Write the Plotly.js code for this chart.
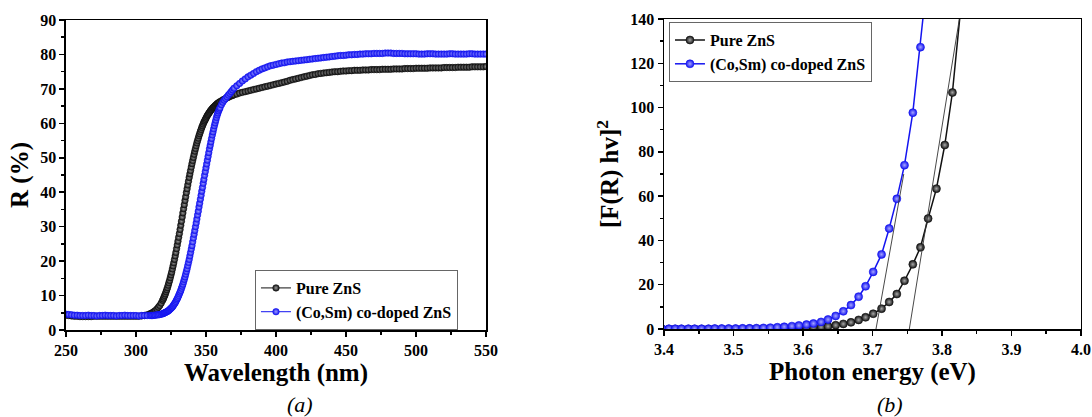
<!DOCTYPE html>
<html>
<head>
<meta charset="utf-8">
<script src="https://cdn.plot.ly/plotly-3.0.1.min.js"></script>
<style>html,body{margin:0;padding:0;background:#fff;}#chart{width:1092px;height:417px;}</style>
</head>
<body>
<div id="chart"></div>
<script>
// ---------- Panel (a): reflectance vs wavelength ----------
const wavelength = [
  250,252,254,256,258,260,262,264,266,268,270,272,274,276,278,280,282,284,286,288,290,292,294,296,298,300,302,304,306,308,310,
  311,312,313,314,315,316,317,318,319,
  319.5,320,320.5,321,321.5,322,322.5,323,323.5,324,
  324.5,325,325.5,326,326.5,327,327.5,328,328.5,329,
  329.5,330,330.5,331,331.5,332,332.5,333,333.5,334,
  334.5,335,335.5,336,336.5,337,337.5,338,338.5,339,
  339.5,340,340.5,341,341.5,342,342.5,343,343.5,344,
  344.5,345,345.5,346,346.5,347,347.5,348,348.5,349,
  349.5,350,350.5,351,351.5,352,352.5,353,353.5,354,
  354.5,355,355.5,356,356.5,357,357.5,358,358.5,359,
  359.5,360,
  361,362,363,364,365,366,367,368,369,370,
  372,374,376,378,380,382,384,386,388,390,
  392,394,396,398,400,402,404,406,408,410,
  412,414,416,418,420,422,424,426,428,430,
  432,434,436,438,440,442,444,446,448,450,
  452,454,456,458,460,462,464,466,468,470,
  472,474,476,478,480,482,484,486,488,490,
  492,494,496,498,500,502,504,506,508,510,
  512,514,516,518,520,522,524,526,528,530,
  532,534,536,538,540,542,544,546,548,550
];
const reflPure = [
  4.3,4.2,4.1,4.0,4.0,3.9,3.9,3.9,3.9,3.9,4.0,4.0,4.0,4.0,4.0,4.0,4.0,4.0,4.0,4.0,4.0,4.0,4.0,4.0,4.0,4.0,4.0,4.1,4.2,4.4,4.7,
  4.9,5.1,5.4,5.7,6.1,6.6,7.1,7.8,8.6,
  9.0,9.5,10.0,10.5,11.1,11.7,12.3,13.0,13.7,14.4,
  15.2,16.0,16.8,17.7,18.6,19.5,20.5,21.5,22.5,23.6,
  24.7,25.8,26.9,28.0,29.2,30.4,31.6,32.8,34.0,35.2,
  36.4,37.6,38.7,39.9,41.0,42.1,43.2,44.3,45.3,46.3,
  47.3,48.3,49.2,50.1,51.0,51.9,52.7,53.5,54.3,55.0,
  55.7,56.4,57.0,57.6,58.2,58.8,59.3,59.8,60.3,60.7,
  61.1,61.5,61.9,62.3,62.6,62.9,63.2,63.5,63.8,64.0,
  64.3,64.5,64.7,64.9,65.1,65.3,65.5,65.7,65.8,66.0,
  66.1,66.3,
  66.5,66.8,67.0,67.2,67.4,67.6,67.8,68.0,68.1,68.3,
  68.5,68.8,69.0,69.2,69.4,69.6,69.8,70.0,70.2,70.4,
  70.6,70.8,71.0,71.2,71.4,71.6,71.8,72.0,72.2,72.5,
  72.7,72.9,73.1,73.3,73.5,73.7,73.9,74.1,74.2,74.4,
  74.5,74.6,74.7,74.8,74.9,75.0,75.0,75.1,75.2,75.2,
  75.3,75.3,75.4,75.4,75.4,75.5,75.5,75.5,75.6,75.6,
  75.6,75.6,75.7,75.7,75.7,75.7,75.8,75.8,75.8,75.8,
  75.9,75.9,75.9,75.9,76.0,76.0,76.0,76.0,76.0,76.1,
  76.1,76.1,76.1,76.1,76.2,76.2,76.2,76.2,76.2,76.3,
  76.3,76.3,76.3,76.3,76.4,76.4,76.4,76.4,76.4,76.5
];
const reflDoped = [
  4.6,4.5,4.4,4.3,4.3,4.2,4.2,4.2,4.3,4.2,4.2,4.1,4.2,4.2,4.3,4.2,4.2,4.2,4.1,4.2,4.2,4.3,4.2,4.2,4.2,4.2,4.1,4.2,4.2,4.2,4.2,
  4.2,4.2,4.3,4.3,4.4,4.4,4.5,4.6,4.7,
  4.8,4.9,5.0,5.1,5.2,5.3,5.4,5.6,5.7,5.9,
  6.1,6.3,6.5,6.7,7.0,7.3,7.6,7.9,8.3,8.7,
  9.1,9.5,10.0,10.5,11.0,11.5,12.1,12.7,13.3,14.0,
  14.7,15.4,16.2,17.0,17.8,18.7,19.6,20.5,21.5,22.5,
  23.5,24.5,25.6,26.7,27.8,28.9,30.0,31.1,32.2,33.4,
  34.5,35.7,36.8,38.0,39.1,40.3,41.4,42.6,43.7,44.9,
  46.0,47.1,48.2,49.3,50.4,51.5,52.6,53.6,54.6,55.6,
  56.6,57.5,58.4,59.3,60.1,60.9,61.7,62.4,63.0,63.6,
  64.1,64.5,
  65.4,66.1,66.7,67.2,67.7,68.2,68.7,69.2,69.7,70.2,
  70.9,71.6,72.3,72.9,73.5,74.0,74.5,75.0,75.4,75.8,
  76.1,76.4,76.7,76.9,77.1,77.3,77.5,77.6,77.8,77.9,
  78.0,78.1,78.2,78.3,78.4,78.5,78.6,78.7,78.8,78.9,
  79.0,79.1,79.2,79.3,79.4,79.5,79.6,79.7,79.7,79.8,
  79.9,79.9,80.0,80.0,80.1,80.1,80.2,80.2,80.2,80.3,
  80.3,80.3,80.3,80.4,80.4,80.4,80.3,80.3,80.3,80.3,
  80.2,80.2,80.2,80.2,80.2,80.1,80.1,80.1,80.2,80.2,
  80.2,80.1,80.1,80.1,80.1,80.1,80.2,80.2,80.1,80.1,
  80.1,80.1,80.1,80.2,80.2,80.1,80.1,80.1,80.1,80.1
];

// ---------- Panel (b): Kubelka-Munk plot ----------
const energyPure = [
  3.397,3.407,3.416,3.425,3.435,3.444,3.454,3.464,3.473,3.483,
  3.493,3.503,3.513,3.523,3.533,3.543,3.553,3.563,3.573,3.584,
  3.594,3.605,3.615,3.626,3.636,3.647,3.658,3.669,3.680,3.690,
  3.701,3.713,3.724,3.735,3.746,3.758,3.769,3.780,3.792,3.804,
  3.815,3.827
];
const kmPure = [
  0.0,0.0,0.0,0.0,0.0,0.0,0.0,0.0,0.0,0.0,
  0.0,0.0,0.0,0.1,0.1,0.1,0.1,0.2,0.2,0.3,
  0.4,0.5,0.7,0.9,1.2,1.7,2.3,3.0,4.1,5.3,
  6.9,9.2,12.2,15.8,21.8,29.2,36.9,49.9,63.4,83.1,
  106.8,145
];
const energyDoped = [
  3.397,3.407,3.416,3.425,3.435,3.444,3.454,3.464,3.473,3.483,
  3.493,3.503,3.513,3.523,3.533,3.543,3.553,3.563,3.573,3.584,
  3.594,3.605,3.615,3.626,3.636,3.647,3.658,3.669,3.680,3.690,
  3.701,3.713,3.724,3.735,3.746,3.758,3.769,3.780
];
const kmDoped = [
  0.1,0.1,0.1,0.1,0.1,0.1,0.1,0.1,0.2,0.2,
  0.2,0.2,0.3,0.3,0.4,0.5,0.6,0.8,1.0,1.3,
  1.6,2.0,2.5,3.2,4.3,5.9,8.0,10.8,14.6,19.3,
  25.8,33.7,45.4,58.8,74.0,97.7,127.3,162
];
// linear-fit (Tauc) extrapolation lines
const fitDopedX = [3.705, 3.745];
const fitDopedY = [0, 70];
const fitPureX = [3.753, 3.825];
const fitPureY = [0, 140];

const seriesNames = ['Pure ZnS', '(Co,Sm) co-doped ZnS'];
const captions = ['(a)', '(b)'];

const BLACK = '#111111';
const BLUE = '#1414f0';
const FONT = 'Liberation Serif';

function markerStyle(col, centre, size) {
  return {symbol: 'circle', size: size, color: col,
          gradient: {type: 'radial', color: centre},
          line: {color: col, width: 0.6}};
}

const traces = [
  {x: wavelength, y: reflPure, name: seriesNames[0], type: 'scatter', mode: 'lines+markers',
   xaxis: 'x', yaxis: 'y', legend: 'legend',
   line: {color: BLACK, width: 1}, marker: markerStyle(BLACK, '#9a9a9a', 6.5)},
  {x: wavelength, y: reflDoped, name: seriesNames[1], type: 'scatter', mode: 'lines+markers',
   xaxis: 'x', yaxis: 'y', legend: 'legend',
   line: {color: BLUE, width: 1}, marker: markerStyle(BLUE, '#9c9cff', 6.5)},
  {x: energyPure, y: kmPure, name: seriesNames[0], type: 'scatter', mode: 'lines+markers',
   xaxis: 'x2', yaxis: 'y2', legend: 'legend2',
   line: {color: BLACK, width: 1.5}, marker: markerStyle(BLACK, '#a8a8a8', 8)},
  {x: energyDoped, y: kmDoped, name: seriesNames[1], type: 'scatter', mode: 'lines+markers',
   xaxis: 'x2', yaxis: 'y2', legend: 'legend2',
   line: {color: BLUE, width: 1.5}, marker: markerStyle(BLUE, '#a5a5ff', 8)},
  {x: fitDopedX, y: fitDopedY, type: 'scatter', mode: 'lines', showlegend: false,
   xaxis: 'x2', yaxis: 'y2', line: {color: '#333', width: 0.9}},
  {x: fitPureX, y: fitPureY, type: 'scatter', mode: 'lines', showlegend: false,
   xaxis: 'x2', yaxis: 'y2', line: {color: '#333', width: 0.9}}
];

function axisBase(extra) {
  return Object.assign({
    ticks: 'outside', ticklen: 5, tickwidth: 1.5, tickcolor: '#000',
    showline: true, linewidth: 1.5, linecolor: '#000', mirror: true,
    showgrid: false, zeroline: false, automargin: false,
    tickfont: {family: FONT, size: 16, color: '#000', weight: 'bold'}
  }, extra);
}
function minorTicks(d) {
  return {dtick: d, ticks: 'outside', ticklen: 3, tickwidth: 1.5, tickcolor: '#000', showgrid: false};
}
function titleFont() { return {family: FONT, size: 25, color: '#000', weight: 'bold'}; }

const layout = {
  width: 1092, height: 417,
  margin: {l: 0, r: 0, t: 0, b: 0},
  paper_bgcolor: '#fff', plot_bgcolor: '#fff',
  font: {family: FONT, size: 16, color: '#000', weight: 'bold'},
  showlegend: true,
  xaxis: axisBase({domain: [0.0604, 0.4451], range: [250, 550], tick0: 250, dtick: 50, anchor: 'y',
    minor: minorTicks(25), title: {text: 'Wavelength (nm)', font: titleFont(), standoff: 0}}),
  yaxis: axisBase({domain: [0.2086, 0.952], range: [0, 90], tick0: 0, dtick: 10, anchor: 'x',
    minor: minorTicks(5), title: {text: 'R (%)', font: titleFont(), standoff: 4}}),
  xaxis2: axisBase({domain: [0.6081, 0.9899], range: [3.4, 4.0], tick0: 3.4, dtick: 0.1, tickformat: '.1f', anchor: 'y2',
    minor: minorTicks(0.05), title: {text: 'Photon energy (eV)', font: titleFont(), standoff: 0}}),
  yaxis2: axisBase({domain: [0.211, 0.9544], range: [0, 140], tick0: 0, dtick: 20, anchor: 'x2',
    minor: minorTicks(10), title: {text: '[F(R) hv]<sup>2</sup>', font: titleFont(), standoff: 4}}),
  legend: {x: 0.2335, y: 0.3525, xanchor: 'left', yanchor: 'top', bgcolor: '#fff',
    bordercolor: '#666', borderwidth: 1, itemwidth: 30, tracegroupgap: 0,
    font: {family: FONT, size: 16, color: '#000', weight: 'bold'}},
  legend2: {x: 0.6126, y: 0.947, xanchor: 'left', yanchor: 'top', bgcolor: '#fff',
    bordercolor: '#666', borderwidth: 1, itemwidth: 30, tracegroupgap: 0,
    font: {family: FONT, size: 16, color: '#000', weight: 'bold'}},
  annotations: [
    {text: captions[0], xref: 'paper', yref: 'paper', x: 0.2747, y: 0.03, xanchor: 'center', yanchor: 'middle',
     showarrow: false, font: {family: FONT, size: 22, color: '#000', style: 'italic', weight: 'normal'}},
    {text: captions[1], xref: 'paper', yref: 'paper', x: 0.815, y: 0.03, xanchor: 'center', yanchor: 'middle',
     showarrow: false, font: {family: FONT, size: 22, color: '#000', style: 'italic', weight: 'normal'}}
  ]
};

Plotly.newPlot('chart', traces, layout, {staticPlot: true, displayModeBar: false});
</script>
</body>
</html>
